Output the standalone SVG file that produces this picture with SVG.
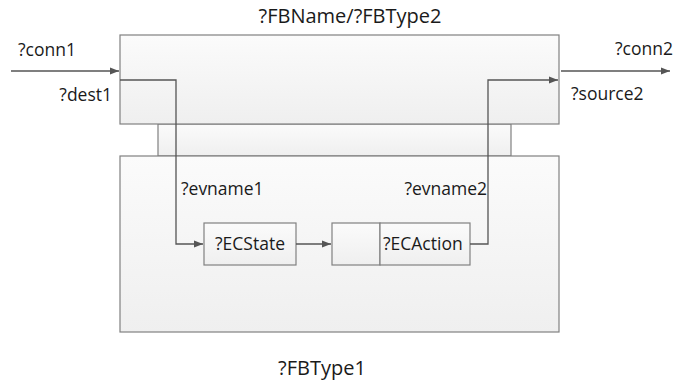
<svg xmlns="http://www.w3.org/2000/svg" width="691" height="384" viewBox="0 0 691 384">
<style>
text{font-family:"Open Sans","Liberation Sans",sans-serif;font-size:17.5px;fill:#1a1a1a}
.big{font-size:20px}
.box{fill:url(#g);stroke:#808080;stroke-width:1.2}
.ln{fill:none;stroke:#555;stroke-width:1.3}
</style>
<defs>
<linearGradient id="g" x1="0" y1="0" x2="0" y2="1"><stop offset="0" stop-color="#fbfbfb"/><stop offset="1" stop-color="#efefef"/></linearGradient>
<marker id="a" markerWidth="10" markerHeight="8" refX="9" refY="4" orient="auto" markerUnits="userSpaceOnUse"><path d="M0,0.5 L9,4 L0,7.5 z" fill="#555"/></marker>
</defs>
<rect width="691" height="384" fill="#fff"/>
<g id="plug"><rect class="box" x="158" y="124" width="353" height="32"/></g>
<g id="fb2"><rect class="box" x="120" y="35" width="439" height="89"/>
<text class="big" x="350" y="23" text-anchor="middle">?FBName/?FBType2</text>
<text x="112" y="101" text-anchor="end">?dest1</text>
<text x="571" y="100">?source2</text></g>
<g id="fb1"><rect class="box" x="120" y="156" width="439" height="176"/>
<text x="181" y="195">?evname1</text>
<text x="487" y="195" text-anchor="end">?evname2</text>
<text class="big" x="322" y="375" text-anchor="middle">?FBType1</text></g>
<g id="ecstate"><rect class="box" x="204" y="223" width="92" height="42"/><text x="250" y="250" text-anchor="middle">?ECState</text></g>
<g id="ecaction"><rect class="box" x="332" y="223" width="48" height="42"/><rect class="box" x="380" y="223" width="90" height="42"/><text x="383" y="250">?ECAction</text></g>
<g id="connectors">
<path class="ln" d="M11,71 H119" marker-end="url(#a)"/>
<text x="18" y="56">?conn1</text>
<path class="ln" d="M561,71 H670" marker-end="url(#a)"/>
<text x="673" y="55" text-anchor="end">?conn2</text>
<path class="ln" d="M120,80 H176 V244 H203" marker-end="url(#a)"/>
<path class="ln" d="M470,244 H488 V80 H558" marker-end="url(#a)"/>
<path class="ln" d="M296,244 H331" marker-end="url(#a)"/>
</g>
</svg>
